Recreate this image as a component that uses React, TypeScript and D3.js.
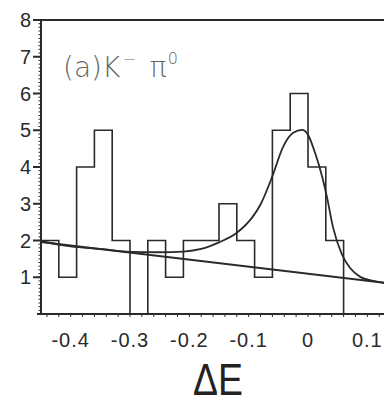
import React from "react";
import * as d3 from "d3";

// Histogram bins (left edges, width 0.03) and counts
const binStarts = [-0.45, -0.42, -0.39, -0.36, -0.33, -0.30, -0.27, -0.24, -0.21, -0.18, -0.15, -0.12, -0.09, -0.06, -0.03, 0.0, 0.03];
const binCounts = [2, 1, 4, 5, 2, 0, 2, 1, 2, 2, 3, 2, 1, 5, 6, 4, 2];
const binEnd = 0.06;

// Fit curve (signal + background)
const fitX = [-0.45, -0.40, -0.35, -0.30, -0.25, -0.21, -0.18, -0.15, -0.12, -0.093, -0.08, -0.06, -0.042, -0.025, -0.01, 0.0, 0.012, 0.024, 0.032, 0.042, 0.057, 0.071, 0.088, 0.11, 0.15];
const fitY = [1.98, 1.84, 1.77, 1.69, 1.68, 1.70, 1.77, 1.95, 2.21, 2.65, 2.98, 3.75, 4.55, 4.93, 5.01, 4.88, 4.38, 3.73, 3.18, 2.37, 1.63, 1.25, 1.01, 0.9, 0.81];

// Linear background
const bgX = [-0.45, 0.15];
const bgY = [1.96, 0.81];

const xTicks = [-0.4, -0.3, -0.2, -0.1, 0, 0.1];
const xTickLabels = ["-0.4", "-0.3", "-0.2", "-0.1", "0", "0.1"];
const yTicks = [1, 2, 3, 4, 5, 6, 7, 8];

const W = 384;
const H = 406;
const INK = "#2a2a2a";

export default function App() {
  const x = d3.scaleLinear().domain([-0.45, 0.15]).range([41, 397]);
  const y = d3.scaleLinear().domain([0, 8]).range([314, 20]);

  const histPts: [number, number][] = [[binStarts[0], 0]];
  binStarts.forEach((s, i) => histPts.push([s, binCounts[i]]));
  histPts.push([binEnd, 0]);
  const histLine = d3
    .line<[number, number]>()
    .x((d) => x(d[0]))
    .y((d) => y(d[1]))
    .curve(d3.curveStepAfter);

  const smooth = d3
    .line<[number, number]>()
    .x((d) => x(d[0]))
    .y((d) => y(d[1]))
    .curve(d3.curveMonotoneX);
  const fitPts = fitX.map((v, i) => [v, fitY[i]] as [number, number]);
  const bgPts = bgX.map((v, i) => [v, bgY[i]] as [number, number]);

  const minorY = d3.range(0, 8.0001, 0.1);
  const minorX = d3.range(-0.44, 0.15, 0.02);

  return (
    <svg
      width={W}
      height={H}
      style={{ position: "absolute", left: 0, top: 0, background: "#fff" }}
    >
      {/* frame */}
      <line x1={x(-0.45)} x2={W} y1={y(8)} y2={y(8)} stroke={INK} strokeWidth={2} />
      <line x1={x(-0.45)} x2={x(-0.45)} y1={y(8)} y2={y(0)} stroke={INK} strokeWidth={2} />
      <line x1={37} x2={W} y1={y(0)} y2={y(0)} stroke={INK} strokeWidth={2} />
      {/* y minor ticks */}
      {minorY.map((v, i) => (
        <line key={"my" + i} x1={x(-0.45) - 2.5} x2={x(-0.45)} y1={y(v)} y2={y(v)} stroke={INK} strokeWidth={1} />
      ))}
      {/* y major ticks + labels */}
      {yTicks.map((v) => (
        <g key={"yt" + v}>
          <line x1={33} x2={x(-0.45)} y1={y(v)} y2={y(v)} stroke={INK} strokeWidth={2} />
          <text
            x={31}
            y={y(v)}
            dy="0.36em"
            textAnchor="end"
            fontFamily="'Liberation Sans', Arial, sans-serif"
            fontSize={20}
            fill={INK}
          >
            {v}
          </text>
        </g>
      ))}
      {/* x minor ticks */}
      {minorX.map((v, i) => (
        <line key={"mx" + i} x1={x(v)} x2={x(v)} y1={y(0)} y2={y(0) + 3} stroke={INK} strokeWidth={1} />
      ))}
      {/* x labels */}
      {xTicks.map((v, i) => (
        <text
          key={"xt" + i}
          x={x(v)}
          y={347}
          textAnchor="middle"
          fontFamily="'Liberation Sans', Arial, sans-serif"
          fontSize={20}
          letterSpacing={1}
          fill={INK}
        >
          {xTickLabels[i]}
        </text>
      ))}
      {/* histogram */}
      <path d={histLine(histPts) || ""} fill="none" stroke={INK} strokeWidth={1.6} />
      {/* background line */}
      <path d={smooth(bgPts) || ""} fill="none" stroke={INK} strokeWidth={2} />
      {/* fit curve */}
      <path d={smooth(fitPts) || ""} fill="none" stroke={INK} strokeWidth={1.8} />
      {/* title */}
      <text
        x={63}
        y={77}
        fontFamily="'DejaVu Sans', sans-serif"
        fontWeight={200}
        fontSize={28}
        fill="#666"
      >
        (a)K
        <tspan dx={2} dy={-12} fontSize={16}>−</tspan>
        <tspan dx={14} dy={12}>π</tspan>
        <tspan dx={1} dy={-13} fontSize={16}>0</tspan>
      </text>
      {/* axis title */}
      <text
        x={218}
        y={395}
        textAnchor="middle"
        fontFamily="'Liberation Sans', Arial, sans-serif"
        fontSize={44}
        fill="#222"
        transform={`translate(${218 * 0.15},0) scale(0.85,1)`}
      >
        ΔE
      </text>
    </svg>
  );
}
